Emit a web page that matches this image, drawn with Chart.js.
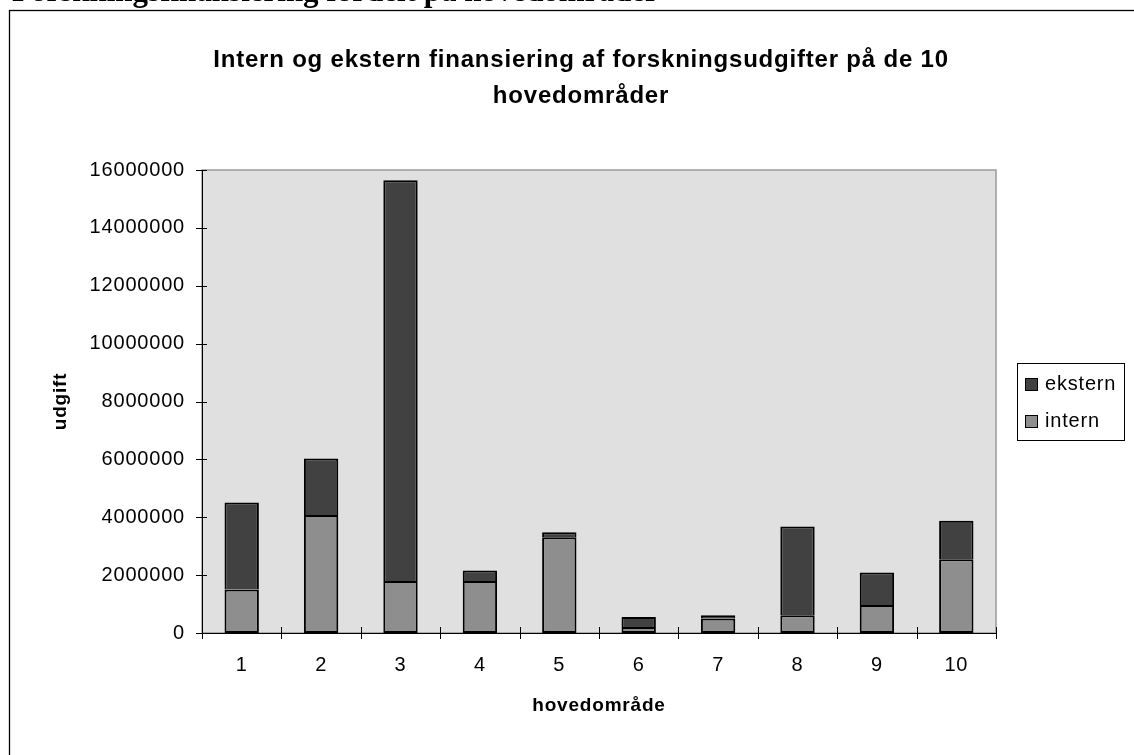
<!DOCTYPE html>
<html>
<head>
<meta charset="utf-8">
<title>Forskningsfinansiering fordelt på hovedområder</title>
<script src="https://cdn.jsdelivr.net/npm/chart.js@4"></script>
<style>
    html, body { margin: 0; padding: 0; background: #fff; overflow: hidden; }
    #wrap { position: relative; width: 1134px; height: 755px; }
    #heading {
        position: absolute; left: 12px; top: -25px; z-index: 2;
        font: bold 31px "Liberation Serif", "Times New Roman", serif;
        line-height: 32px; white-space: nowrap; color: #000;
    }
    canvas { position: absolute; left: 0; top: 0; }
</style>
</head>
<body>
<div id="wrap">
    <div id="heading">Forskningsfinansiering fordelt på hovedområder</div>
    <canvas id="myChart" width="1134" height="755"></canvas>
</div>
<script>
// Data
const categories = ['1', '2', '3', '4', '5', '6', '7', '8', '9', '10'];
const internValues = [1500000, 4080000, 1800000, 1800000, 3310000, 210000, 500000, 610000, 970000, 2550000];
const eksternValues = [3010000, 1950000, 13850000, 360000, 170000, 340000, 110000, 3070000, 1120000, 1330000];
const yTickValues = [0, 2000000, 4000000, 6000000, 8000000, 10000000, 12000000, 14000000, 16000000];
const seriesNames = ['intern', 'ekstern'];
const seriesColors = ['#8e8e8e', '#414141'];

Chart.defaults.font.family = 'Arial, "Liberation Sans", sans-serif';
Chart.defaults.color = '#000';

// letter spacing like the old Excel rendering
function setSpacing(chart) {
    chart.ctx.letterSpacing = '0.8px';
}

// frame, plot background, crossing tick marks and boxed legend
const excelLook = {
    id: 'excelLook',
    beforeUpdate(chart) { setSpacing(chart); },
    afterLayout(chart) {
        // the chart title sits centred over the plot + legend column, not the whole box
        const tb = chart.titleBlock;
        if (tb) {
            tb.left = 166;
            tb.right = 996;
        }
    },
    beforeDraw(chart) {
        const ctx = chart.ctx;
        const a = chart.chartArea;
        setSpacing(chart);
        ctx.save();
        ctx.fillStyle = '#fff';
        ctx.fillRect(0, 0, chart.width, chart.height);
        ctx.strokeStyle = '#000';
        ctx.lineWidth = 1.3;
        ctx.strokeRect(9.5, 10.5, 2000, 2000);
        ctx.fillStyle = '#e0e0e0';
        ctx.fillRect(a.left, a.top, a.right - a.left, a.bottom - a.top);
        ctx.strokeStyle = '#9a9a9a';
        ctx.lineWidth = 1.5;
        ctx.strokeRect(a.left, a.top, a.right - a.left, a.bottom - a.top);
        ctx.restore();
    },
    afterDraw(chart) {
        const ctx = chart.ctx;
        const a = chart.chartArea;
        const yScale = chart.scales.y;
        ctx.save();
        ctx.strokeStyle = '#000';
        ctx.lineWidth = 1;
        ctx.beginPath();
        yScale.ticks.forEach(t => {
            const y = Math.round(yScale.getPixelForValue(t.value)) + 0.5;
            ctx.moveTo(a.left - 6, y);
            ctx.lineTo(a.left + 5, y);
        });
        const n = categories.length;
        for (let i = 0; i <= n; i++) {
            const x = Math.round(a.left + i * (a.right - a.left) / n) + 0.5;
            ctx.moveTo(x, a.bottom - 6);
            ctx.lineTo(x, a.bottom + 6);
        }
        ctx.stroke();

        // legend box (ekstern on top, like the reference)
        ctx.fillStyle = '#fff';
        ctx.fillRect(1017.5, 363.5, 107, 77);
        ctx.strokeRect(1017.5, 363.5, 107, 77);
        const rows = [1, 0];
        const rowY = [385, 422];
        ctx.font = '20px Arial, "Liberation Sans", sans-serif';
        ctx.textBaseline = 'middle';
        ctx.textAlign = 'left';
        rows.forEach((di, k) => {
            const ds = chart.data.datasets[di];
            ctx.fillStyle = ds.backgroundColor;
            ctx.fillRect(1025.5, rowY[k] - 6.5, 12, 12);
            ctx.strokeRect(1025.5, rowY[k] - 6.5, 12, 12);
            ctx.fillStyle = '#000';
            ctx.fillText(ds.label, 1045, rowY[k] - 1);
        });
        ctx.restore();
    }
};

const ctx = document.getElementById('myChart').getContext('2d');
const myChart = new Chart(ctx, {
    type: 'bar',
    data: {
        labels: categories,
        datasets: [
            {
                label: seriesNames[0],
                data: internValues,
                backgroundColor: seriesColors[0],
                borderColor: '#000',
                borderWidth: 2,
                borderSkipped: false,
                categoryPercentage: 1,
                barPercentage: 0.433
            },
            {
                label: seriesNames[1],
                data: eksternValues,
                backgroundColor: seriesColors[1],
                borderColor: '#000',
                borderWidth: 2,
                borderSkipped: 'bottom',
                categoryPercentage: 1,
                barPercentage: 0.433
            }
        ]
    },
    options: {
        responsive: false,
        animation: false,
        layout: { padding: { left: 0, right: 138, top: 0, bottom: 0 } },
        plugins: {
            legend: { display: false },
            tooltip: { enabled: false },
            title: {
                display: true,
                text: ['Intern og ekstern finansiering af forskningsudgifter på de 10', 'hovedområder'],
                color: '#000',
                font: { size: 24, weight: 'bold', lineHeight: 1.5 },
                padding: { top: 42, bottom: 56 }
            }
        },
        scales: {
            x: {
                stacked: true,
                grid: { display: false, drawTicks: false },
                border: { display: true, color: '#000', width: 1 },
                ticks: { color: '#000', font: { size: 20 }, padding: 20 },
                title: {
                    display: true,
                    text: 'hovedområde',
                    color: '#000',
                    font: { size: 19, weight: 'bold' },
                    padding: { top: 0, bottom: 38 }
                },
                afterFit: axis => { axis.height = 122; }
            },
            y: {
                stacked: true,
                min: 0,
                max: 16000000,
                grid: { display: false, drawTicks: false },
                border: { display: true, color: '#000', width: 1 },
                afterBuildTicks: axis => {
                    axis.ticks = yTickValues.map(v => ({ value: v }));
                },
                ticks: {
                    color: '#000',
                    font: { size: 20 },
                    padding: 17,
                    callback: v => String(v)
                },
                title: {
                    display: true,
                    text: 'udgift',
                    color: '#000',
                    font: { size: 19, weight: 'bold' },
                    padding: { top: 49, bottom: 0 }
                },
                afterFit: axis => { axis.width = 202; }
            }
        }
    },
    plugins: [excelLook]
});
</script>
</body>
</html>
